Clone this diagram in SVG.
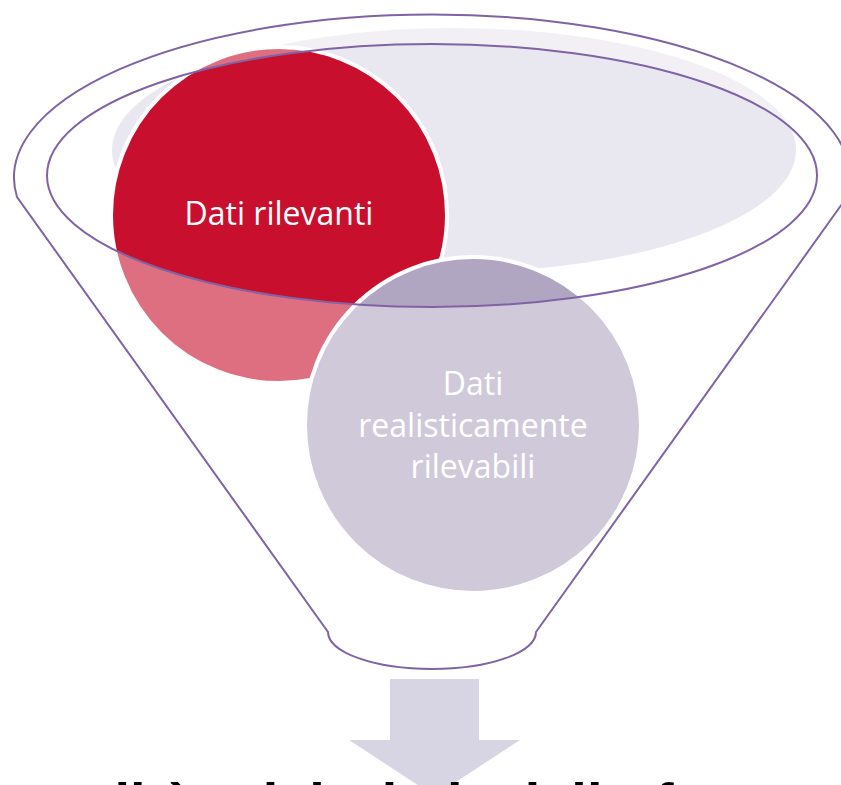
<svg xmlns="http://www.w3.org/2000/svg" width="841" height="785" viewBox="0 0 841 785">
  <style>
    .lbl { font-family: "Open Sans", "Liberation Sans", sans-serif; font-size: 32px; fill: #FFFFFF; text-anchor: middle; }
    .line { fill: none; stroke: #7F63A5; stroke-width: 2; }
    .ring { stroke: #FFFFFF; stroke-width: 4; }
    .bottom { font-family: "Liberation Sans", Arial, sans-serif; font-weight: bold; font-size: 56px; fill: #000000; }
  </style>
  <rect width="841" height="785" fill="#FFFFFF"/>
  <g id="liquid">
    <ellipse cx="454" cy="150" rx="342" ry="122" fill="#E9E7EF"/>
  </g>
  <g id="node-relevant">
    <circle cx="279" cy="215" r="168" fill="#C8102E" class="ring"/>
  </g>
  <g id="node-feasible">
    <circle cx="473" cy="425" r="168" fill="#B0A6C2" class="ring"/>
  </g>
  <g id="funnel">
    <path d="M 17 197 A 418 163 0 1 1 847 197 L 536 632 A 104 37 0 0 1 328 632 Z M 47 175.5 A 385 131.5 0 0 0 817 175.5 A 385 131.5 0 0 0 47 175.5 Z" fill="#FFFFFF" fill-opacity="0.4" fill-rule="evenodd" stroke="none"/>
    <path class="line" d="M 17 197 A 418 163 0 1 1 847 197 L 536 632 A 104 37 0 0 1 328 632 Z"/>
    <ellipse class="line" cx="432" cy="175.5" rx="385" ry="131.5"/>
  </g>
  <g id="labels">
    <text class="lbl" x="279" y="225">Dati rilevanti</text>
    <text class="lbl" x="473" y="395">Dati</text>
    <text class="lbl" x="473" y="437">realisticamente</text>
    <text class="lbl" x="473" y="478">rilevabili</text>
  </g>
  <g id="arrow">
    <path d="M 390 679 L 479 679 L 479 740 L 520 740 L 434.5 796 L 349 740 L 390 740 Z" fill="#D7D4E4"/>
  </g>
  <g id="result">
    <text class="bottom" y="822"><tspan x="15">qualità</tspan><tspan x="244">dei</tspan><tspan x="363">dati</tspan><tspan x="506">della</tspan><tspan x="655">fonte</tspan></text>
  </g>
</svg>
